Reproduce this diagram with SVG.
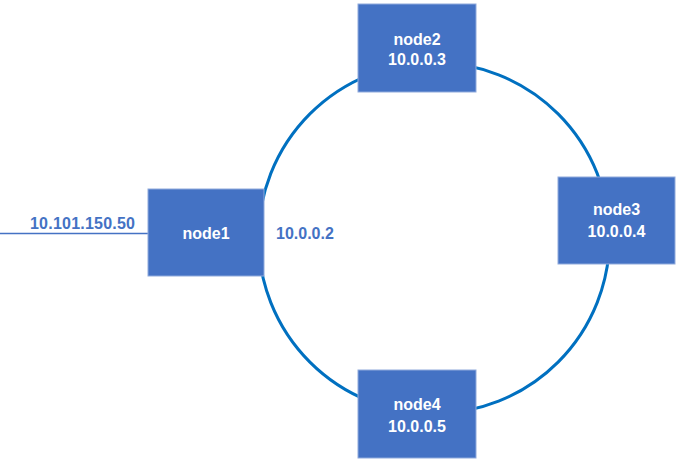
<svg xmlns="http://www.w3.org/2000/svg" width="678" height="463" viewBox="0 0 678 463">
<style>
.box{fill:#4472C4;stroke:#8FAADC;stroke-width:1}
.t{font-family:"Liberation Sans",Arial,sans-serif;font-weight:bold;font-size:16px;fill:#fff;text-anchor:middle}
.lbl{font-family:"Liberation Sans",Arial,sans-serif;font-weight:bold;font-size:16px;fill:#4472C4}
</style>
<rect width="678" height="463" fill="#fff"/>
<g id="connectors">
<circle cx="434" cy="238" r="175.5" fill="none" stroke="#0070C0" stroke-width="3"/>
<line x1="0" y1="233.5" x2="148" y2="233.5" stroke="#4472C4" stroke-width="1.5"/>
</g>
<g id="node1">
<rect class="box" x="148" y="189" width="116" height="87"/>
<text class="t" x="206" y="239">node1</text>
</g>
<g id="node2">
<rect class="box" x="358" y="4" width="118" height="88"/>
<text class="t" x="417" y="45">node2</text>
<text class="t" x="417" y="65">10.0.0.3</text>
</g>
<g id="node3">
<rect class="box" x="558" y="177" width="117" height="87"/>
<text class="t" x="616.5" y="215">node3</text>
<text class="t" x="616.5" y="237">10.0.0.4</text>
</g>
<g id="node4">
<rect class="box" x="358" y="370" width="118" height="88"/>
<text class="t" x="417" y="410">node4</text>
<text class="t" x="417" y="432">10.0.0.5</text>
</g>
<text class="lbl" x="276" y="239">10.0.0.2</text>
<text class="lbl" x="30" y="229" textLength="105">10.101.150.50</text>
</svg>
